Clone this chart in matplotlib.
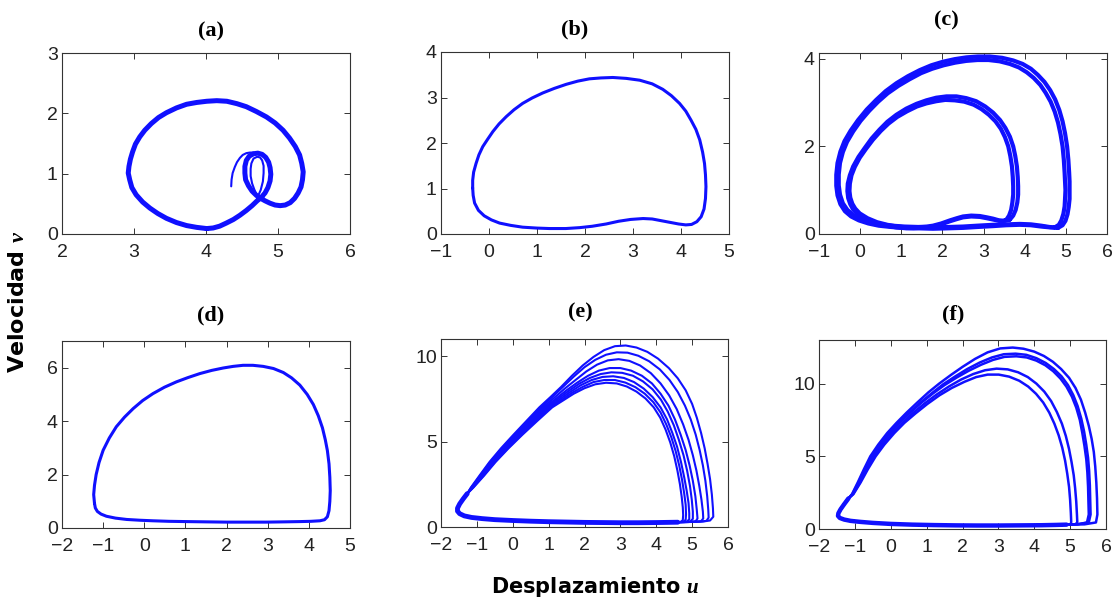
import matplotlib
matplotlib.use('Agg')
import matplotlib.pyplot as plt

plt.rcParams['font.family'] = ['Liberation Sans', 'DejaVu Sans']
plt.rcParams['mathtext.fontset'] = 'custom'
plt.rcParams['mathtext.it'] = 'Liberation Serif:italic:bold'
plt.rcParams['mathtext.rm'] = 'Liberation Serif:bold'

# (a) main cycle with small secondary loop, an inner pass of the small loop and the transient start
a_loop_u = [4.01, 3.87, 3.73, 3.59, 3.45, 3.33, 3.22, 3.12, 3.03, 2.97, 2.94, 2.92, 2.93, 2.95, 2.98,
            3.02, 3.08, 3.15, 3.24, 3.34, 3.45, 3.59, 3.73, 3.87, 4.01, 4.15, 4.29, 4.43, 4.56, 4.70,
            4.84, 4.96, 5.07, 5.16, 5.24, 5.30, 5.33, 5.35, 5.34, 5.32, 5.28, 5.23, 5.17, 5.10, 5.03,
            4.96, 4.89, 4.82, 4.76, 4.70, 4.64, 4.59, 4.55, 4.54, 4.54, 4.56, 4.60, 4.66, 4.72, 4.78,
            4.83, 4.87, 4.89, 4.90, 4.89, 4.86, 4.82, 4.77, 4.71, 4.64, 4.56, 4.47, 4.38, 4.28, 4.19,
            4.10, 4.01]
a_loop_v = [0.09, 0.11, 0.14, 0.19, 0.26, 0.34, 0.43, 0.53, 0.65, 0.77, 0.90, 1.01, 1.12, 1.24, 1.36,
            1.49, 1.61, 1.72, 1.83, 1.93, 2.01, 2.09, 2.15, 2.18, 2.20, 2.21, 2.20, 2.16, 2.11, 2.03,
            1.94, 1.84, 1.72, 1.59, 1.45, 1.31, 1.17, 1.03, 0.90, 0.78, 0.68, 0.59, 0.52, 0.48, 0.47,
            0.48, 0.51, 0.55, 0.59, 0.64, 0.71, 0.80, 0.90, 1.01, 1.12, 1.22, 1.29, 1.33, 1.34, 1.32,
            1.27, 1.19, 1.10, 0.99, 0.88, 0.77, 0.68, 0.61, 0.55, 0.47, 0.39, 0.31, 0.24, 0.18, 0.13,
            0.10, 0.09]
a_inner_u = [4.74, 4.70, 4.67, 4.64, 4.62, 4.62, 4.63, 4.66, 4.71, 4.75, 4.78, 4.80, 4.80, 4.79, 4.76, 4.72]
a_inner_v = [0.60, 0.66, 0.74, 0.84, 0.96, 1.08, 1.17, 1.25, 1.28, 1.27, 1.22, 1.13, 1.01, 0.87, 0.73, 0.62]
a_start_u = [4.35, 4.355, 4.37, 4.40, 4.43, 4.47, 4.51, 4.56, 4.61, 4.66, 4.70]
a_start_v = [0.79, 0.90, 1.01, 1.11, 1.19, 1.26, 1.31, 1.34, 1.35, 1.35, 1.33]

# (b) single period-1 cycle
b_u = [-0.34, -0.33, -0.30, -0.22, -0.10, 0.05, 0.22, 0.45, 0.70, 1.00, 1.26, 1.60, 1.89, 2.15, 2.44,
       2.70, 2.95, 3.21, 3.40, 3.55, 3.75, 3.95, 4.10, 4.22, 4.33, 4.42, 4.48, 4.51, 4.52, 4.51,
       4.49, 4.45, 4.39, 4.31, 4.21, 4.10, 3.97, 3.80, 3.62, 3.40, 3.14, 2.86, 2.58, 2.33, 2.09,
       1.85, 1.61, 1.36, 1.12, 0.90, 0.70, 0.52, 0.36, 0.21, 0.08, -0.03, -0.13, -0.21, -0.27, -0.32,
       -0.34, -0.34]
b_v = [1.01, 0.85, 0.68, 0.52, 0.40, 0.31, 0.24, 0.19, 0.15, 0.13, 0.12, 0.12, 0.14, 0.17, 0.22,
       0.28, 0.32, 0.34, 0.33, 0.30, 0.26, 0.22, 0.20, 0.21, 0.27, 0.38, 0.55, 0.78, 1.04, 1.30,
       1.55, 1.80, 2.07, 2.30, 2.50, 2.70, 2.87, 3.04, 3.18, 3.30, 3.38, 3.42, 3.44, 3.43, 3.41,
       3.36, 3.29, 3.20, 3.10, 2.99, 2.87, 2.73, 2.58, 2.42, 2.25, 2.08, 1.92, 1.74, 1.55, 1.36,
       1.18, 1.01]

# (c) two bands: outer and inner loops, two passes each
c_outer1_u = [4.81, 4.92, 4.99, 5.04, 5.07, 5.09, 5.09, 5.09, 5.08, 5.06, 5.03, 4.98, 4.92, 4.84, 4.74,
              4.62, 4.48, 4.32, 4.15, 3.95, 3.72, 3.45, 3.15, 2.86, 2.58, 2.30, 2.01, 1.73, 1.45, 1.16,
              0.88, 0.62, 0.39, 0.16, -0.05, -0.23, -0.38, -0.48, -0.55, -0.58, -0.58, -0.55, -0.48,
              -0.37, -0.22, -0.03, 0.20, 0.45, 0.75, 1.05, 1.40, 1.77, 2.15, 2.50, 2.85, 3.23, 3.55,
              3.88, 4.15, 4.40, 4.62, 4.81]
c_outer1_v = [0.14, 0.20, 0.30, 0.45, 0.62, 0.80, 1.00, 1.20, 1.40, 1.70, 2.00, 2.30, 2.57, 2.83, 3.07,
              3.28, 3.47, 3.63, 3.77, 3.88, 3.96, 4.02, 4.05, 4.05, 4.03, 3.99, 3.93, 3.85, 3.74, 3.60,
              3.44, 3.26, 3.06, 2.84, 2.60, 2.36, 2.12, 1.88, 1.62, 1.35, 1.10, 0.88, 0.68,
              0.52, 0.40, 0.31, 0.24, 0.19, 0.16, 0.14, 0.13, 0.12, 0.13, 0.14, 0.16, 0.18, 0.20,
              0.21, 0.20, 0.17, 0.15, 0.14]
c_outer2_u = [4.73, 4.83, 4.89, 4.94, 4.97, 4.98, 4.99, 4.98, 4.97, 4.95, 4.92, 4.87, 4.81, 4.73, 4.63,
              4.51, 4.38, 4.22, 4.05, 3.86, 3.64, 3.39, 3.12, 2.85, 2.58, 2.31, 2.03, 1.75, 1.48, 1.20,
              0.93, 0.67, 0.44, 0.22, 0.01, -0.17, -0.32, -0.42, -0.49, -0.52, -0.52, -0.49, -0.42,
              -0.31, -0.16, 0.02, 0.24, 0.49, 0.78, 1.08, 1.42, 1.78, 2.15, 2.50, 2.85, 3.23, 3.55,
              3.88, 4.15, 4.40, 4.60, 4.73]
c_outer2_v = [0.15, 0.21, 0.31, 0.46, 0.63, 0.80, 1.00, 1.20, 1.40, 1.70, 2.00, 2.28, 2.54, 2.79, 3.02,
              3.22, 3.40, 3.56, 3.69, 3.80, 3.88, 3.94, 3.97, 3.97, 3.95, 3.91, 3.85, 3.77, 3.67, 3.53,
              3.38, 3.21, 3.02, 2.81, 2.58, 2.34, 2.10, 1.87, 1.62, 1.36, 1.11, 0.90, 0.70,
              0.55, 0.43, 0.34, 0.27, 0.22, 0.19, 0.17, 0.16, 0.15, 0.16, 0.17, 0.19, 0.21, 0.22,
              0.23, 0.22, 0.19, 0.16, 0.15]
c_inner1_u = [3.64, 3.72, 3.78, 3.82, 3.84, 3.84, 3.83, 3.81, 3.77, 3.72, 3.64, 3.53, 3.40, 3.23, 3.04,
              2.82, 2.58, 2.34, 2.10, 1.85, 1.61, 1.37, 1.12, 0.88, 0.66, 0.47, 0.28, 0.11, -0.04,
              -0.17, -0.25, -0.30, -0.31, -0.29, -0.24, -0.17, -0.05, 0.15, 0.38, 0.64, 0.88, 1.12,
              1.30, 1.45, 1.62, 1.77, 1.97, 2.18, 2.35, 2.50, 2.70, 2.91, 3.08, 3.23, 3.38, 3.52, 3.64]
c_inner1_v = [0.33, 0.42, 0.55, 0.72, 0.90, 1.09, 1.30, 1.54, 1.78, 2.00, 2.22, 2.42, 2.60, 2.77, 2.91,
              3.03, 3.10, 3.14, 3.14, 3.11, 3.05, 2.97, 2.86, 2.72, 2.56, 2.38, 2.18, 1.96, 1.76,
              1.54, 1.34, 1.15, 0.98, 0.82, 0.68, 0.56, 0.44, 0.33, 0.25, 0.19, 0.15, 0.13,
              0.13, 0.14, 0.15, 0.17, 0.22, 0.29, 0.34, 0.38, 0.40, 0.39, 0.36, 0.33, 0.30, 0.30, 0.33]
c_inner2_u = [3.55, 3.62, 3.67, 3.70, 3.72, 3.72, 3.71, 3.69, 3.65, 3.60, 3.52, 3.42, 3.29, 3.13, 2.95,
              2.76, 2.53, 2.30, 2.07, 1.85, 1.61, 1.38, 1.14, 0.90, 0.69, 0.50, 0.31, 0.14, -0.01,
              -0.13, -0.21, -0.25, -0.26, -0.24, -0.19, -0.12, -0.01, 0.18, 0.41, 0.66, 0.90, 1.13,
              1.30, 1.45, 1.62, 1.77, 1.97, 2.18, 2.35, 2.50, 2.70, 2.91, 3.08, 3.23, 3.38, 3.47, 3.55]
c_inner2_v = [0.32, 0.42, 0.55, 0.72, 0.90, 1.09, 1.30, 1.54, 1.78, 2.00, 2.21, 2.40, 2.57, 2.72, 2.85,
              2.95, 3.02, 3.05, 3.06, 3.03, 2.98, 2.91, 2.80, 2.67, 2.52, 2.35, 2.15, 1.94, 1.74,
              1.53, 1.34, 1.15, 0.98, 0.83, 0.69, 0.58, 0.47, 0.36, 0.27, 0.21, 0.17, 0.15,
              0.15, 0.16, 0.17, 0.19, 0.24, 0.31, 0.36, 0.40, 0.42, 0.41, 0.38, 0.35, 0.31, 0.30, 0.32]

# (d) single large cycle
d_u = [-1.21, -1.19, -1.14, -1.05, -0.92, -0.70, -0.43, -0.10, 0.21, 0.60, 1.03, 1.50, 2.00, 2.50, 2.97,
       3.40, 3.78, 4.05, 4.27, 4.38, 4.45, 4.49, 4.51, 4.52, 4.51, 4.49, 4.45, 4.40, 4.33, 4.23,
       4.11, 3.96, 3.78, 3.58, 3.38, 3.14, 2.89, 2.64, 2.40, 2.16, 1.92, 1.64, 1.35, 1.06, 0.78,
       0.49, 0.21, -0.04, -0.27, -0.48, -0.68, -0.85, -1.00, -1.10, -1.17, -1.21, -1.23, -1.21]
d_v = [0.92, 0.75, 0.62, 0.52, 0.44, 0.37, 0.32, 0.29, 0.27, 0.25, 0.24, 0.23, 0.22, 0.22, 0.22,
       0.23, 0.24, 0.25, 0.27, 0.31, 0.42, 0.65, 1.00, 1.40, 1.90, 2.40, 2.90, 3.30, 3.75, 4.20,
       4.62, 5.00, 5.35, 5.62, 5.82, 5.97, 6.05, 6.09, 6.09, 6.05, 5.99, 5.90, 5.78, 5.63, 5.47,
       5.27, 5.03, 4.77, 4.47, 4.15, 3.79, 3.37, 2.91, 2.45, 2.00, 1.60, 1.25, 0.92]

# (e) shared bottom and lower-left corner, then one arc per loop (outer to inner)
e_base_u = [4.6, 4.3, 4.0, 3.5, 3.0, 2.5, 2.0, 1.5, 1.0, 0.5, 0.0, -0.5, -0.85, -1.15, -1.35, -1.48,
            -1.54, -1.54, -1.48, -1.38, -1.27]
e_base_v = [0.28, 0.27, 0.26, 0.25, 0.25, 0.26, 0.27, 0.29, 0.31, 0.34, 0.38, 0.43, 0.49, 0.56, 0.65,
            0.78, 0.93, 1.10, 1.35, 1.65, 1.95]
e_arcs_u = [
    [-1.17, -0.93, -0.65, -0.33, 0.02, 0.38, 0.74, 1.05, 1.35, 1.65, 1.95, 2.25, 2.55, 2.85, 3.15, 3.45,
     3.75, 4.05, 4.35, 4.6, 4.82, 5.0, 5.13, 5.25, 5.35, 5.43, 5.5, 5.55, 5.58, 5.59, 5.5, 5.3, 5.0, 4.6],
    [-1.16, -0.91, -0.63, -0.30, 0.06, 0.42, 0.79, 1.10, 1.40, 1.70, 2.0, 2.3, 2.6, 2.9, 3.2, 3.5,
     3.8, 4.1, 4.37, 4.6, 4.8, 4.96, 5.1, 5.21, 5.3, 5.37, 5.42, 5.45, 5.46, 5.4, 5.2, 4.9, 4.6],
    [-1.15, -0.89, -0.6, -0.27, 0.1, 0.46, 0.84, 1.15, 1.45, 1.75, 2.05, 2.35, 2.65, 2.95, 3.25, 3.55,
     3.85, 4.12, 4.36, 4.57, 4.75, 4.9, 5.02, 5.12, 5.2, 5.26, 5.3, 5.31, 5.25, 5.0, 4.6],
    [-1.14, -0.87, -0.57, -0.24, 0.14, 0.51, 0.89, 1.2, 1.5, 1.8, 2.1, 2.4, 2.7, 3.0, 3.3, 3.6,
     3.88, 4.12, 4.34, 4.52, 4.68, 4.82, 4.93, 5.02, 5.09, 5.13, 5.15, 5.1, 4.9, 4.6],
    [-1.13, -0.85, -0.54, -0.2, 0.18, 0.55, 0.94, 1.25, 1.55, 1.85, 2.15, 2.45, 2.75, 3.05, 3.35, 3.63,
     3.9, 4.13, 4.32, 4.49, 4.63, 4.76, 4.86, 4.94, 4.99, 5.02, 5.02, 4.95, 4.78, 4.6],
    [-1.12, -0.83, -0.52, -0.17, 0.21, 0.6, 0.99, 1.3, 1.6, 1.9, 2.2, 2.5, 2.8, 3.1, 3.38, 3.65,
     3.9, 4.12, 4.3, 4.45, 4.58, 4.69, 4.78, 4.85, 4.9, 4.92, 4.92, 4.85, 4.7, 4.6],
    [-1.11, -0.82, -0.5, -0.14, 0.24, 0.64, 1.04, 1.35, 1.65, 1.95, 2.25, 2.55, 2.85, 3.14, 3.42, 3.68,
     3.92, 4.12, 4.28, 4.42, 4.54, 4.64, 4.72, 4.78, 4.82, 4.83, 4.82, 4.75, 4.65, 4.6],
    [-1.10, -0.80, -0.48, -0.12, 0.27, 0.68, 1.10, 1.4, 1.7, 2.0, 2.3, 2.6, 2.9, 3.18, 3.45, 3.7,
     3.93, 4.11, 4.26, 4.39, 4.5, 4.59, 4.66, 4.71, 4.74, 4.75, 4.74, 4.68, 4.6],
]
e_arcs_v = [
    [2.3, 3.0, 3.8, 4.6, 5.4, 6.2, 7.0, 7.6, 8.2, 8.85, 9.45, 9.95, 10.35, 10.58, 10.62, 10.5,
     10.25, 9.85, 9.3, 8.7, 8.0, 7.2, 6.4, 5.5, 4.6, 3.7, 2.8, 1.9, 1.1, 0.6, 0.38, 0.32, 0.3, 0.28],
    [2.3, 3.0, 3.8, 4.6, 5.4, 6.2, 7.0, 7.6, 8.2, 8.8, 9.35, 9.78, 10.08, 10.22, 10.2, 10.02,
     9.7, 9.22, 8.6, 7.9, 7.1, 6.3, 5.4, 4.5, 3.6, 2.7, 1.8, 1.0, 0.55, 0.36, 0.31, 0.29, 0.28],
    [2.3, 3.0, 3.8, 4.6, 5.4, 6.2, 7.0, 7.55, 8.1, 8.6, 9.1, 9.5, 9.75, 9.82, 9.72, 9.45,
     9.0, 8.4, 7.7, 6.9, 6.0, 5.1, 4.2, 3.3, 2.4, 1.6, 0.9, 0.5, 0.34, 0.3, 0.28],
    [2.3, 3.0, 3.8, 4.6, 5.4, 6.2, 7.0, 7.5, 8.0, 8.45, 8.85, 9.15, 9.3, 9.3, 9.15, 8.85,
     8.4, 7.8, 7.1, 6.3, 5.4, 4.5, 3.6, 2.7, 1.8, 1.0, 0.5, 0.33, 0.29, 0.28],
    [2.3, 3.0, 3.8, 4.6, 5.4, 6.2, 7.0, 7.48, 7.95, 8.38, 8.72, 8.95, 9.05, 9.02, 8.85, 8.52,
     8.05, 7.45, 6.75, 5.95, 5.1, 4.2, 3.3, 2.4, 1.6, 0.9, 0.48, 0.32, 0.29, 0.28],
    [2.3, 3.0, 3.8, 4.6, 5.4, 6.2, 7.0, 7.45, 7.9, 8.3, 8.6, 8.78, 8.82, 8.72, 8.48, 8.1,
     7.6, 7.0, 6.3, 5.5, 4.7, 3.8, 2.9, 2.1, 1.4, 0.8, 0.45, 0.31, 0.29, 0.28],
    [2.3, 3.0, 3.8, 4.6, 5.4, 6.2, 7.0, 7.42, 7.85, 8.2, 8.48, 8.6, 8.6, 8.45, 8.18, 7.8,
     7.3, 6.7, 6.0, 5.25, 4.45, 3.6, 2.75, 1.95, 1.3, 0.75, 0.42, 0.3, 0.29, 0.28],
    [2.3, 3.0, 3.8, 4.6, 5.4, 6.2, 7.0, 7.4, 7.8, 8.12, 8.35, 8.44, 8.4, 8.22, 7.92, 7.52,
     7.0, 6.4, 5.7, 4.95, 4.15, 3.3, 2.5, 1.75, 1.15, 0.7, 0.4, 0.3, 0.28],
]

# (f) shared bottom and lower-left corner, then one arc per loop (outer to inner)
f_base_u = [4.9, 4.6, 4.2, 3.6, 3.0, 2.4, 1.8, 1.2, 0.6, 0.0, -0.5, -0.85, -1.12, -1.3, -1.42, -1.47,
            -1.46, -1.4, -1.3, -1.18]
f_base_v = [0.30, 0.28, 0.26, 0.25, 0.24, 0.24, 0.25, 0.27, 0.30, 0.35, 0.42, 0.49, 0.56, 0.65, 0.76,
            0.90, 1.08, 1.35, 1.70, 2.10]
f_arcs_u = [
    [-1.08, -0.92, -0.75, -0.57, -0.35, -0.1, 0.16, 0.44, 0.74, 1.05, 1.35, 1.68, 2.0, 2.35, 2.7, 3.05,
     3.4, 3.7, 4.0, 4.27, 4.52, 4.75, 4.97, 5.15, 5.3, 5.42, 5.52, 5.6, 5.66, 5.7, 5.73, 5.75, 5.76,
     5.72, 5.4, 4.9],
    [-1.07, -0.9, -0.72, -0.53, -0.3, -0.04, 0.23, 0.52, 0.83, 1.15, 1.46, 1.8, 2.13, 2.48, 2.82, 3.15,
     3.48, 3.78, 4.06, 4.32, 4.55, 4.76, 4.94, 5.09, 5.21, 5.31, 5.39, 5.45, 5.5, 5.53, 5.55, 5.56,
     5.57, 5.52, 5.2, 4.9],
    [-1.06, -0.89, -0.71, -0.52, -0.28, -0.02, 0.25, 0.54, 0.86, 1.18, 1.5, 1.84, 2.17, 2.52, 2.85, 3.17,
     3.5, 3.79, 4.06, 4.31, 4.53, 4.73, 4.9, 5.05, 5.17, 5.27, 5.34, 5.4, 5.45, 5.48, 5.5, 5.51,
     5.52, 5.47, 5.2, 4.9],
    [-1.05, -0.86, -0.67, -0.46, -0.22, 0.05, 0.33, 0.63, 0.95, 1.28, 1.62, 1.96, 2.3, 2.63, 2.95, 3.26,
     3.55, 3.82, 4.06, 4.28, 4.47, 4.63, 4.77, 4.88, 4.97, 5.04, 5.1, 5.14, 5.17, 5.19, 5.2, 5.15,
     5.0, 4.9],
    [-1.04, -0.84, -0.64, -0.42, -0.18, 0.1, 0.38, 0.69, 1.02, 1.36, 1.7, 2.05, 2.38, 2.7, 3.01, 3.3,
     3.58, 3.83, 4.05, 4.25, 4.42, 4.56, 4.68, 4.78, 4.86, 4.92, 4.97, 5.0, 5.02, 5.03, 5.02, 4.95, 4.9],
]
f_arcs_v = [
    [2.4, 3.2, 4.1, 5.0, 5.8, 6.6, 7.3, 8.0, 8.7, 9.4, 10.0, 10.6, 11.15, 11.7, 12.15, 12.42,
     12.48, 12.4, 12.2, 11.9, 11.5, 11.0, 10.4, 9.7, 8.9, 8.0, 7.1, 6.2, 5.3, 4.3, 3.2, 2.1, 1.0,
     0.45, 0.32, 0.3],
    [2.4, 3.2, 4.1, 5.0, 5.8, 6.6, 7.3, 8.0, 8.7, 9.35, 9.95, 10.5, 11.0, 11.45, 11.8, 12.02,
     12.06, 11.98, 11.75, 11.42, 11.0, 10.5, 9.9, 9.2, 8.45, 7.6, 6.7, 5.8, 4.9, 4.0, 3.0, 2.0,
     1.0, 0.45, 0.32, 0.3],
    [2.4, 3.2, 4.1, 5.0, 5.8, 6.6, 7.3, 8.0, 8.7, 9.33, 9.9, 10.42, 10.88, 11.3, 11.63, 11.84,
     11.88, 11.8, 11.58, 11.26, 10.85, 10.35, 9.78, 9.1, 8.35, 7.5, 6.6, 5.7, 4.8, 3.9, 2.9, 1.9,
     1.0, 0.45, 0.32, 0.3],
    [2.4, 3.2, 4.1, 5.0, 5.8, 6.6, 7.3, 8.0, 8.65, 9.25, 9.8, 10.28, 10.66, 10.92, 11.03, 10.98,
     10.78, 10.45, 10.0, 9.45, 8.8, 8.05, 7.25, 6.4, 5.5, 4.6, 3.7, 2.8, 1.9, 1.0, 0.45, 0.33,
     0.3, 0.3],
    [2.4, 3.2, 4.1, 5.0, 5.8, 6.6, 7.3, 7.95, 8.6, 9.2, 9.7, 10.12, 10.45, 10.62, 10.62, 10.48,
     10.2, 9.8, 9.3, 8.7, 8.0, 7.25, 6.45, 5.6, 4.7, 3.8, 2.9, 2.0, 1.1, 0.5, 0.33, 0.3, 0.3],
]

W, H = 1119, 602
BLUE = '#1010ff'


def box(l, t, r, b):
    return [l / W, 1 - b / H, (r - l) / W, (b - t) / H]


def style(ax, xlim, ylim, xticks, yticks):
    ax.set_xlim(xlim)
    ax.set_ylim(ylim)
    ax.set_xticks(xticks)
    ax.set_yticks(yticks)
    ax.tick_params(direction='in', top=True, right=True, length=4, width=0.7,
                   labelsize=14, labelcolor='#222222', color='#333333')
    ax.tick_params(axis='x', pad=7)
    ax.tick_params(axis='y', pad=3)
    for s in ax.spines.values():
        s.set_linewidth(0.8)
        s.set_color('#333333')


def line(ax, u, v, lw):
    ax.plot(u, v, color=BLUE, lw=lw, solid_joinstyle='round', solid_capstyle='round')


fig = plt.figure(figsize=(W / 100, H / 100), dpi=100)

ax_a = fig.add_axes(box(62, 53, 350, 234))
line(ax_a, a_loop_u, a_loop_v, 3.6)
line(ax_a, a_inner_u, a_inner_v, 1.5)
line(ax_a, a_start_u, a_start_v, 1.5)
style(ax_a, (2, 6), (0, 3), [2, 3, 4, 5, 6], [0, 1, 2, 3])

ax_b = fig.add_axes(box(441, 52, 729, 234))
line(ax_b, b_u, b_v, 2.2)
style(ax_b, (-1, 5), (0, 4), range(-1, 6), range(0, 5))

ax_c = fig.add_axes(box(819, 53, 1107, 234))
for cu, cv in [(c_outer1_u, c_outer1_v), (c_outer2_u, c_outer2_v),
               (c_inner1_u, c_inner1_v), (c_inner2_u, c_inner2_v)]:
    line(ax_c, cu, cv, 3.0)
style(ax_c, (-1, 6), (0, 4.13), range(-1, 7), [0, 2, 4])

ax_d = fig.add_axes(box(62, 341, 350, 528))
line(ax_d, d_u, d_v, 2.2)
style(ax_d, (-2, 5), (0, 7), range(-2, 6), [0, 2, 4, 6])

ax_e = fig.add_axes(box(441, 339, 728, 527))
line(ax_e, e_base_u, e_base_v, 3.5)
for au, av in zip(e_arcs_u, e_arcs_v):
    line(ax_e, e_base_u + au, e_base_v + av, 1.5)
style(ax_e, (-2, 6), (0, 11), range(-2, 7), [0, 5, 10])

ax_f = fig.add_axes(box(819, 340, 1106, 529))
line(ax_f, f_base_u, f_base_v, 3.2)
for au, av in zip(f_arcs_u, f_arcs_v):
    line(ax_f, f_base_u + au, f_base_v + av, 1.8)
style(ax_f, (-2, 6), (0, 13), range(-2, 7), [0, 5, 10])

# panel titles
titles = ['(a)', '(b)', '(c)', '(d)', '(e)', '(f)']
title_xy = [(211, 31), (575, 29), (946, 20), (211, 315), (580, 312), (953, 314)]
for t, (x, y) in zip(titles, title_xy):
    fig.text(x / W, 1 - y / H, t, ha='center', va='center', fontsize=16,
             fontweight='bold', family='Liberation Serif')

fig.text(595 / W, 1 - 587 / H, 'Desplazamiento $u$', ha='center', va='center',
         fontsize=15, fontweight='bold', family='DejaVu Sans')
fig.text(18 / W, 1 - 302 / H, 'Velocidad $v$', ha='center', va='center', rotation=90,
         fontsize=16, fontweight='bold', family='DejaVu Sans')

fig.savefig('out.png', dpi=100)
